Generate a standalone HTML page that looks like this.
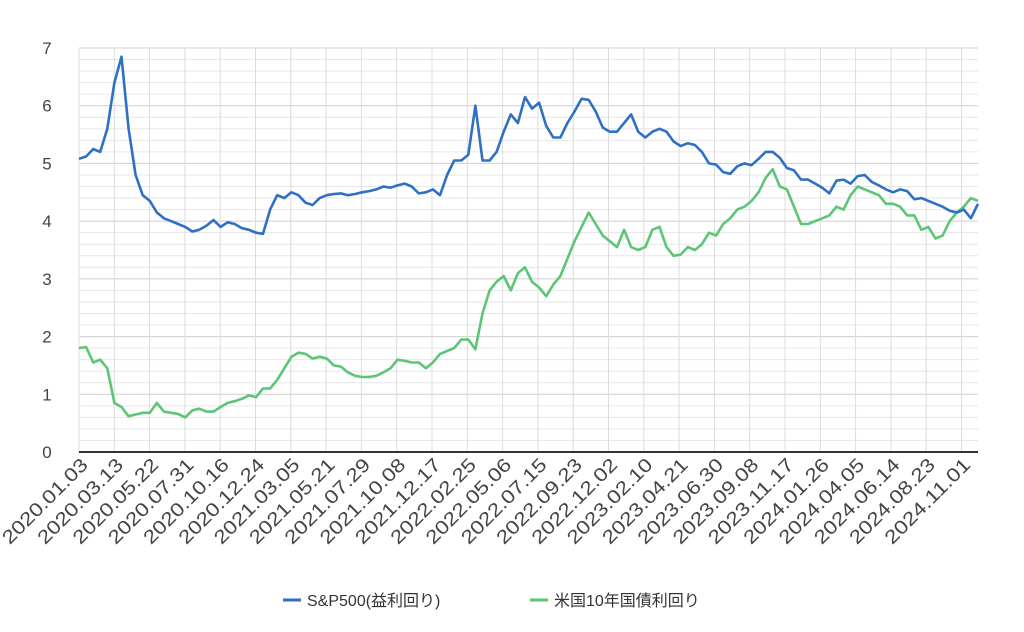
<!DOCTYPE html>
<html><head><meta charset="utf-8"><style>
body{margin:0;background:#fff;}
svg{display:block;font-family:"Liberation Sans","Noto Sans CJK JP",sans-serif;}
</style></head><body>
<svg id="chart" width="1024" height="632" viewBox="0 0 1024 632" xmlns="http://www.w3.org/2000/svg">
<g id="grid"></g>
<g id="yaxis"></g>
<g id="xaxis"></g>
<g id="series"></g>
<g>
<g>
<line x1="283" y1="600" x2="301" y2="600" stroke="#3070c4" stroke-width="3"/>
<text x="307" y="606" font-size="16" fill="#333">S&amp;P500(益利回り)</text>
</g>
<g>
<line x1="530" y1="600" x2="548" y2="600" stroke="#5dc576" stroke-width="3"/>
<text x="554" y="606" font-size="16" fill="#333">米国10年国債利回り</text>
</g>
</g>
</svg>
<script>
const xLabels=["2020.01.03","2020.03.13","2020.05.22","2020.07.31","2020.10.16","2020.12.24","2021.03.05","2021.05.21","2021.07.29","2021.10.08","2021.12.17","2022.02.25","2022.05.06","2022.07.15","2022.09.23","2022.12.02","2023.02.10","2023.04.21","2023.06.30","2023.09.08","2023.11.17","2024.01.26","2024.04.05","2024.06.14","2024.08.23","2024.11.01"];
const yTicks=[0,1,2,3,4,5,6,7];
const sp500=[5.08,5.12,5.25,5.2,5.6,6.4,6.85,5.6,4.8,4.45,4.35,4.15,4.05,4.0,3.95,3.9,3.82,3.85,3.92,4.02,3.9,3.98,3.95,3.88,3.85,3.8,3.78,4.2,4.45,4.4,4.5,4.45,4.32,4.28,4.4,4.45,4.47,4.48,4.45,4.47,4.5,4.52,4.55,4.6,4.58,4.62,4.65,4.6,4.48,4.5,4.55,4.45,4.8,5.05,5.05,5.15,6.0,5.05,5.05,5.2,5.55,5.85,5.7,6.15,5.95,6.05,5.65,5.45,5.45,5.7,5.9,6.12,6.1,5.9,5.62,5.55,5.55,5.7,5.85,5.55,5.45,5.55,5.6,5.55,5.38,5.3,5.35,5.32,5.2,5.0,4.98,4.85,4.82,4.95,5.0,4.97,5.08,5.2,5.2,5.1,4.92,4.88,4.72,4.72,4.65,4.58,4.48,4.7,4.72,4.65,4.78,4.8,4.68,4.62,4.55,4.5,4.55,4.52,4.38,4.4,4.35,4.3,4.25,4.18,4.15,4.2,4.05,4.3];
const us10y=[1.8,1.82,1.55,1.6,1.45,0.85,0.78,0.62,0.65,0.68,0.68,0.85,0.7,0.68,0.66,0.6,0.72,0.75,0.7,0.7,0.78,0.85,0.88,0.92,0.98,0.95,1.1,1.1,1.25,1.45,1.65,1.72,1.7,1.62,1.65,1.62,1.5,1.48,1.38,1.32,1.3,1.3,1.32,1.38,1.45,1.6,1.58,1.55,1.55,1.45,1.55,1.7,1.75,1.8,1.95,1.95,1.78,2.4,2.8,2.95,3.05,2.8,3.1,3.2,2.95,2.85,2.7,2.9,3.05,3.35,3.65,3.9,4.15,3.95,3.75,3.65,3.55,3.85,3.55,3.5,3.55,3.85,3.9,3.55,3.4,3.42,3.55,3.5,3.6,3.8,3.75,3.95,4.05,4.2,4.25,4.35,4.5,4.75,4.9,4.6,4.55,4.25,3.95,3.95,4.0,4.05,4.1,4.25,4.2,4.45,4.6,4.55,4.5,4.45,4.3,4.3,4.25,4.1,4.1,3.85,3.9,3.7,3.75,4.0,4.15,4.25,4.4,4.35];

const NS="http://www.w3.org/2000/svg";
const X0=79,X1=978,Y0=452,Y7=48,gridStep=35.3;
const yScale=v=>Y0-(v/7)*(Y0-Y7);
const xScale=(i,n)=>X0+i*(X1-X0)/(n-1);
function mk(tag,attrs,parent){const e=document.createElementNS(NS,tag);for(const k in attrs)e.setAttribute(k,attrs[k]);parent.appendChild(e);return e;}
const grid=document.getElementById('grid');
for(let m=0;m<=35;m++){
  const v=m*0.2;const y=yScale(v);
  const l=mk('line',{x1:X0,x2:X1,y1:y,y2:y,stroke:m%5===0?'#cfcfcf':'#e6e6e6','stroke-width':1},grid);
  
  
}
for(let k=0;k<=25;k++){
  const x=X0+k*gridStep;
  const l=mk('line',{x1:x,x2:x,y1:Y7,y2:Y0,stroke:'#dcdcdc','stroke-width':1},grid);
  
  
}
const yaxis=document.getElementById('yaxis');
yTicks.forEach(v=>{
  const t=mk('text',{x:47,y:yScale(v)+6,'text-anchor':'middle','font-size':17,fill:'#444'},yaxis);
  t.textContent=v;
  
  
});
const base=mk('line',{x1:X0,x2:X1,y1:Y0,y2:Y0,stroke:'#333','stroke-width':2},yaxis);


const xaxis=document.getElementById('xaxis');
xLabels.forEach((s,k)=>{
  const x=X0+k*gridStep+10,y=466;
  const t=mk('text',{x:x,y:y,'text-anchor':'end','font-size':19,fill:'#444',textLength:112,lengthAdjust:'spacingAndGlyphs',transform:`rotate(-45 ${x} ${y})`},xaxis);
  t.textContent=s;
  
  
});
const series=document.getElementById('series');
function line(arr,color,name){
  const d=arr.map((v,i)=>(i?'L':'M')+xScale(i,sp500.length).toFixed(1)+' '+yScale(v).toFixed(1)).join(' ');
  const p=mk('path',{d:d,fill:'none',stroke:color,'stroke-width':2.6,'stroke-linejoin':'round'},series);
  
  
}
line(us10y,'#5dc576','us10y-line');
line(sp500,'#3070c4','sp500-line');
</script>
</body></html>
